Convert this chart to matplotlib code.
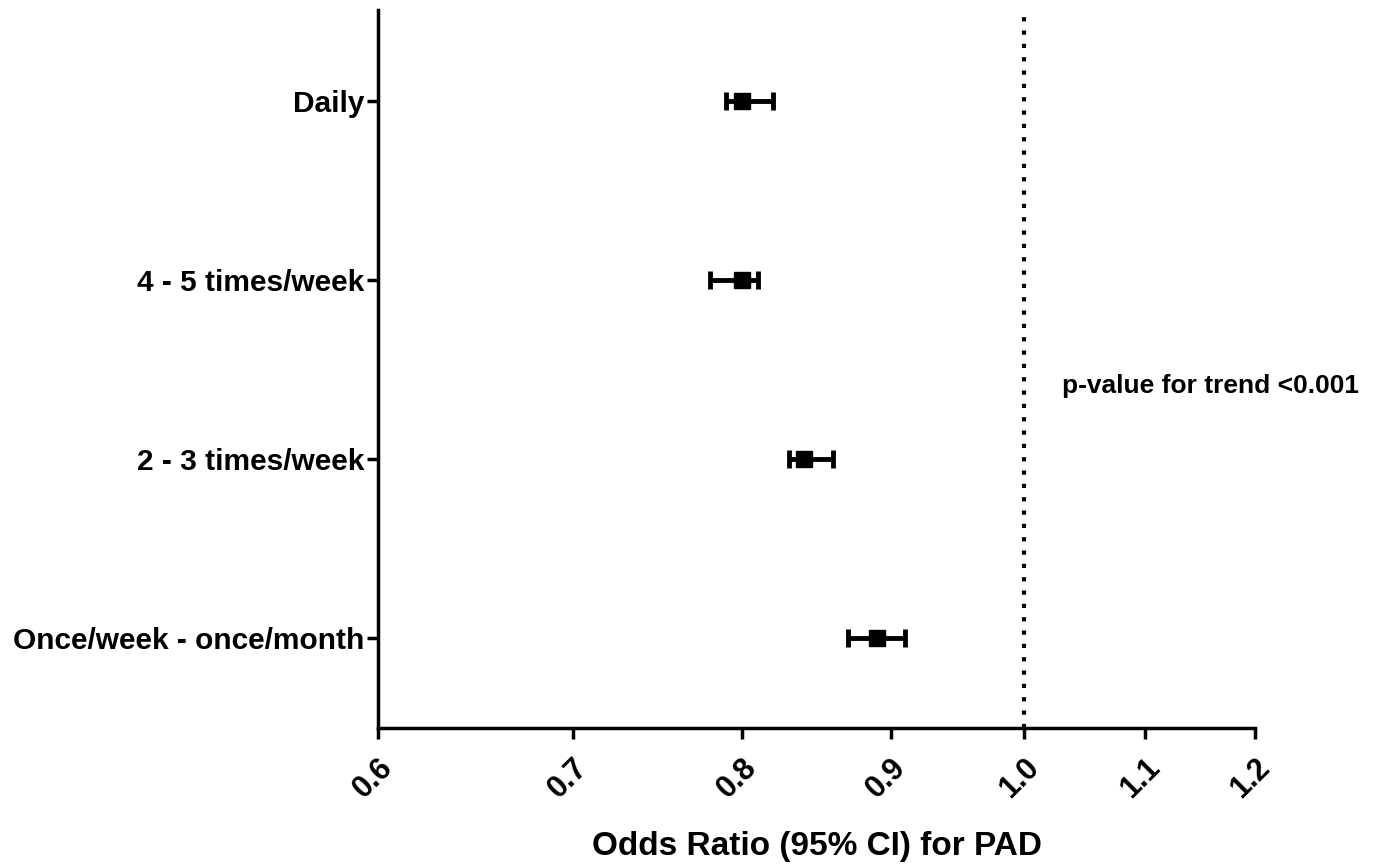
import numpy as np
import matplotlib
matplotlib.use("Agg")
import matplotlib.pyplot as plt
from matplotlib.ticker import FixedLocator, NullLocator

plt.rcParams["font.family"] = ["Liberation Sans", "DejaVu Sans"]
plt.rcParams["font.weight"] = "bold"

categories = ["Daily", "4 - 5 times/week", "2 - 3 times/week", "Once/week - once/month"]
odds = [0.80, 0.80, 0.84, 0.89]
lower = [0.79, 0.78, 0.83, 0.87]
upper = [0.82, 0.81, 0.86, 0.91]
xticks = [0.6, 0.7, 0.8, 0.9, 1.0, 1.1, 1.2]

fig = plt.figure(figsize=(13.76, 8.67), dpi=100)
ax = fig.add_axes([378 / 1376, 1 - 728 / 867, (1255 - 378) / 1376, (728 - 10) / 867])

y = np.arange(len(categories), 0, -1)
odds = np.array(odds)
err = [odds - np.array(lower), np.array(upper) - odds]
ax.errorbar(odds, y, xerr=err, fmt="s", color="black", markersize=12,
            elinewidth=3.5, capsize=6.5, capthick=3.5)

ax.axvline(1.0, color="black", linestyle=(0, (1, 2.2)), linewidth=3)

ax.set_xscale("log")
ax.set_xlim(0.6, 1.2)
ax.xaxis.set_major_locator(FixedLocator(xticks))
ax.xaxis.set_minor_locator(NullLocator())
ax.set_xticklabels([f"{t:.1f}" for t in xticks], rotation=45, ha="right",
                   rotation_mode="anchor", fontsize=22, fontweight="bold")
ax.set_ylim(0.5, 4.51)
ax.set_yticks(y)
ax.set_yticklabels(categories, fontsize=21.5, fontweight="bold")

for s in ["top", "right"]:
    ax.spines[s].set_visible(False)
for s in ["left", "bottom"]:
    ax.spines[s].set_linewidth(2.5)
ax.tick_params(axis="both", width=2.5, length=8)
ax.tick_params(axis="y", pad=2)
ax.tick_params(axis="x", pad=10)

ax.set_xlabel("Odds Ratio (95% CI) for PAD", fontsize=24, fontweight="bold", labelpad=19)
ax.text(1.03, 2.41, "p-value for trend <0.001", fontsize=19, fontweight="bold",
        va="center", ha="left", clip_on=False)

fig.savefig("out.png", dpi=100)
